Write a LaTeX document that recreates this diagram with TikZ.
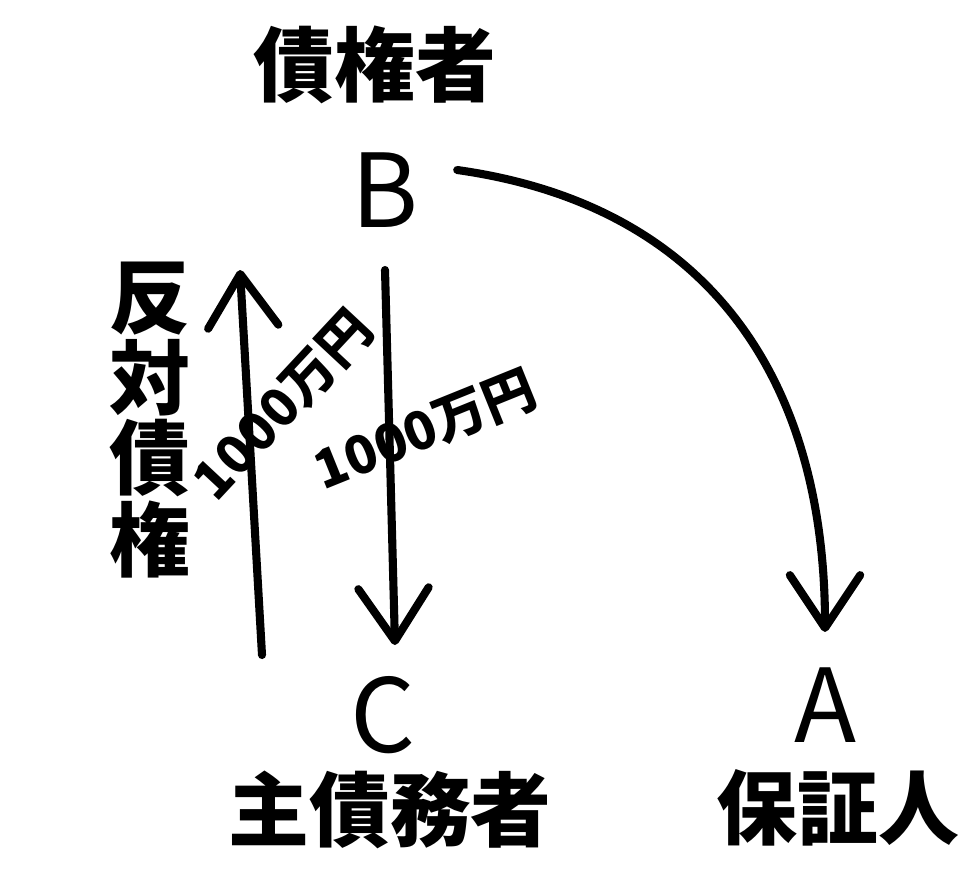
\documentclass[tikz,border=0pt]{standalone}
\usepackage{fontspec}
\newfontfamily\jpfont{Noto Sans CJK JP}
\usetikzlibrary{arrows.meta,positioning}
\tikzset{
    %Define standard arrow tip
    >={Straight Barb[round,length=15pt,width=20pt,line width=2.3pt]},
    %Define style for the parties
    party/.style={
           font=\jpfont\fontsize{29}{34}\selectfont,
           inner sep=0pt},
    %Define style for the role names
    role/.style={
           font=\jpfont\bfseries\fontsize{23}{28}\selectfont,
           inner sep=0pt},
    %Define style for the amounts
    amount/.style={
           font=\jpfont\bfseries\fontsize{15}{18}\selectfont,
           inner sep=0pt},
    % Define arrow style
    pil/.style={
           ->,
           line width=2.3pt,
           line cap=round}
}
\begin{document}
\begin{tikzpicture}[x=0.01cm,y=-0.01cm]
\useasboundingbox (0,0) rectangle (968,879);

 %nodes
\node[party](B) at (385,190){B};
\node[party](C) at (383,715){C};
\node[party](A) at (825,705){A};
\node[role](creditor) at (375,65){債権者};
\node[role](debtor) at (390,810){主債務者};
\node[role](guarantor) at (838,808){保証人};
\node[role, align=center, font=\jpfont\bfseries\fontsize{23}{21}\selectfont](counter) at (150,420){反\\対\\債\\権};

 %amounts
\node[amount, rotate=47](amount up) at (283,405){1000万円};
\node[amount, rotate=22](amount down) at (425,430){1000万円};

 %arrows
\coordinate (up start) at (262,655);
\coordinate (up end) at (240,270);
\coordinate (down start) at (385,270);
\coordinate (down end) at (395,645);

\draw[pil] (up start) -- (up end);
\draw[pil] (down start) -- (down end);
\draw[pil] ([shift={(38,-20)}]B.east) to[out=-8, in=90, looseness=1.1] ([shift={(0,-35)}]A.north);

\end{tikzpicture}
\end{document}
